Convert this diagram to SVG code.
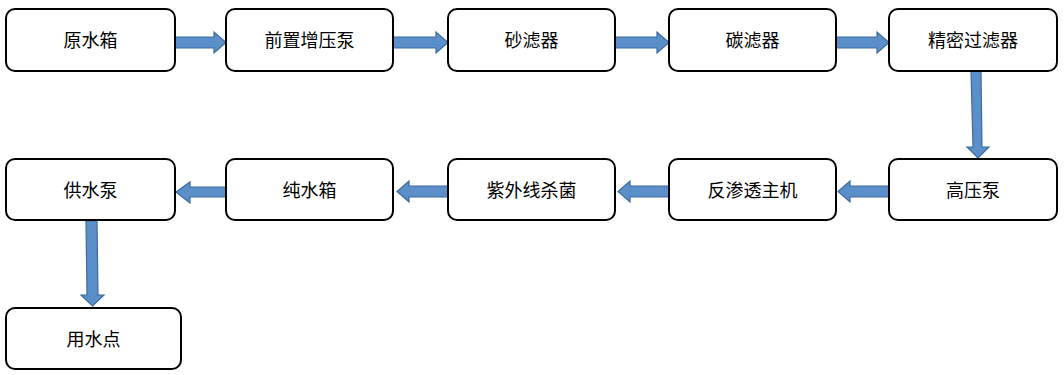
<svg xmlns="http://www.w3.org/2000/svg" width="1064" height="375" viewBox="0 0 1064 375">
<style>
.box{fill:#fff;stroke:#000;stroke-width:2}
.t{font-family:"Noto Sans CJK SC","Liberation Sans",sans-serif;font-size:18px;fill:#000;text-anchor:middle}
.ar{fill:#5a8fca;stroke:#3d6b9e;stroke-width:1.2}
</style>
<rect width="1064" height="375" fill="#fff"/>
<g id="connectors">
<polygon class="ar" points="175,37 214,37 214,32 226,42.5 214,53 214,48 175,48"/>
<polygon class="ar" points="393,37 436,37 436,32 448,42.5 436,53 436,48 393,48"/>
<polygon class="ar" points="615,37 657,37 657,32 669,42.5 657,53 657,48 615,48"/>
<polygon class="ar" points="836,37 877,37 877,32 889,42.5 877,53 877,48 836,48"/>
<polygon class="ar" points="971,71 981,71 982,147 989,147 978,158 967,147 973,147"/>
<polygon class="ar" points="889,186 850,186 850,181 838,191.5 850,202 850,197 889,197"/>
<polygon class="ar" points="669,186 630,186 630,181 618,191.5 630,202 630,197 669,197"/>
<polygon class="ar" points="448,186 409,186 409,181 397,191.5 409,202 409,197 448,197"/>
<polygon class="ar" points="226,187 190,187 190,182 176,192 190,203 190,197 226,197"/>
<polygon class="ar" points="86,221 97,221 98,295 104,295 92.5,306 81,295 87,295"/>
</g>
<g id="n1"><rect class="box" x="6" y="9" width="169" height="62" rx="9"/><text class="t" x="90.5" y="47">原水箱</text></g>
<g id="n2"><rect class="box" x="226" y="9" width="167" height="62" rx="9"/><text class="t" x="309.5" y="47">前置增压泵</text></g>
<g id="n3"><rect class="box" x="448" y="9" width="167" height="62" rx="9"/><text class="t" x="531.5" y="47">砂滤器</text></g>
<g id="n4"><rect class="box" x="669" y="9" width="167" height="62" rx="9"/><text class="t" x="752.5" y="47">碳滤器</text></g>
<g id="n5"><rect class="box" x="889" y="9" width="168" height="62" rx="9"/><text class="t" x="973" y="47">精密过滤器</text></g>
<g id="n6"><rect class="box" x="889" y="159" width="168" height="61" rx="9"/><text class="t" x="973" y="197">高压泵</text></g>
<g id="n7"><rect class="box" x="669" y="159" width="167" height="61" rx="9"/><text class="t" x="752.5" y="197">反渗透主机</text></g>
<g id="n8"><rect class="box" x="448" y="159" width="167" height="61" rx="9"/><text class="t" x="531.5" y="197">紫外线杀菌</text></g>
<g id="n9"><rect class="box" x="226" y="159" width="167" height="61" rx="9"/><text class="t" x="309.5" y="197">纯水箱</text></g>
<g id="n10"><rect class="box" x="6" y="159" width="169" height="61" rx="9"/><text class="t" x="90.5" y="197">供水泵</text></g>
<g id="n11"><rect class="box" x="6" y="308" width="175" height="61" rx="9"/><text class="t" x="93.5" y="346">用水点</text></g>
</svg>
